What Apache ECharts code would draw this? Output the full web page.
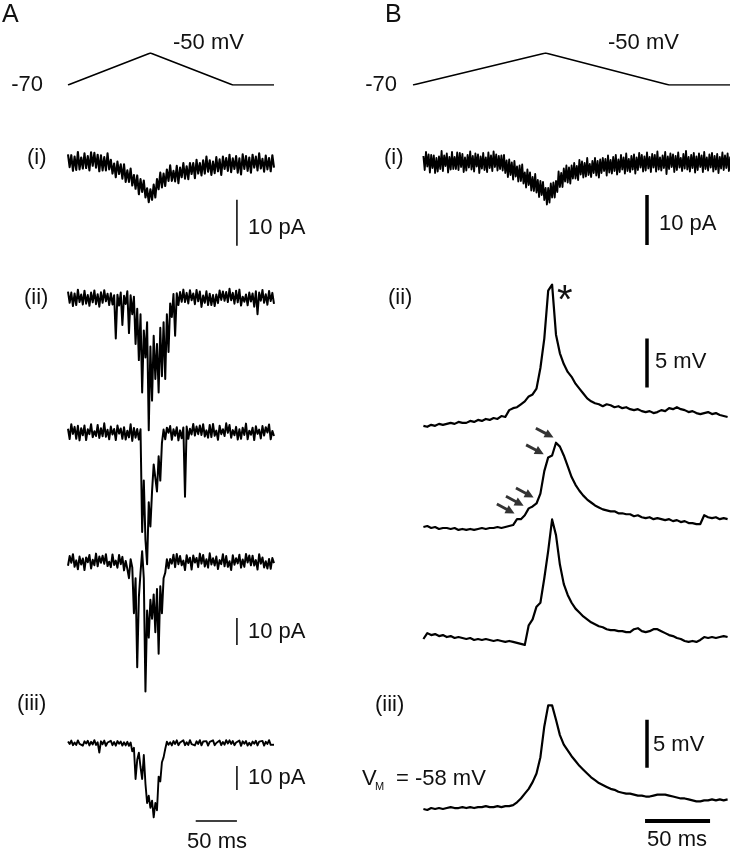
<!DOCTYPE html>
<html><head><meta charset="utf-8">
<script src="https://cdn.jsdelivr.net/npm/echarts@6.0.0/dist/echarts.min.js"></script>
<style>html,body{margin:0;padding:0;background:#fff}#c{width:730px;height:853px}</style>
</head><body><div id="c"></div><script>
// ---- command ramps (ms, mV) ----
const rampTimesA = [0, 100, 200, 250];
const rampVoltsA = [-70, -50, -70, -70];
const rampTimesB = [0, 102, 197, 244];
const rampVoltsB = [-70, -50, -70, -70];

// ---- panel A current traces (pA), sampled every 2 ms from 0 ms ----
const aStep = 2;
const aI = [1.6,-1.2,1.4,-2.0,1.1,-1.8,2.1,-1.7,0.9,-1.5,
1.8,-1.4,1.2,-1.9,2.0,-0.9,1.9,-1.3,1.5,-2.1,
1.4,-1.9,1.0,-1.9,1.8,-1.7,0.4,-2.6,-0.4,-3.4,
0.0,-2.7,-0.6,-3.7,-0.6,-4.4,-1.9,-4.4,-1.5,-5.2,
-2.9,-5.9,-3.0,-7.1,-3.8,-6.6,-4.1,-7.8,-5.8,-8.8,
-6.0,-8.3,-5.0,-7.8,-3.8,-6.0,-2.4,-5.6,-2.6,-5.3,
-1.7,-4.2,-0.8,-4.2,-2.0,-4.3,-0.9,-4.7,-1.3,-3.4,
-0.3,-3.7,-1.0,-3.8,-0.3,-2.7,-0.3,-3.6,0.4,-2.6,
-0.3,-3.0,0.3,-2.6,1.1,-2.2,0.3,-2.9,0.0,-2.5,
1.0,-2.1,0.5,-2.9,1.1,-1.6,0.8,-2.0,1.5,-2.3,
0.7,-1.6,1.2,-2.4,0.7,-2.8,1.6,-1.6,1.2,-2.0,
0.9,-2.4,1.5,-1.3,1.1,-1.9,1.8,-1.5,0.6,-2.2,
1.3,-1.7,0.8,-2.1,1.4,-1.3];
const aII1 = [2.4,-1.8,2.0,-3.0,1.7,-2.6,3.1,-1.5,1.3,-2.4,2.7,-2.1,1.1,-2.9,2.0,-1.6,2.8,-2.3,1.4,-3.2,2.1,-1.8,2.9,-1.2,1.6,-2.6,
1.8,-2.4,1.0,-15,1.2,-2.8,2.0,-10,0.8,-2.2,2.5,-13,1.0,-6,0.5,-17,-4,-23,-6,-35,-12,-22,-9,-49,-18,-38,-14,-30,-17,-35,-11,-29,-9,-30,-6,-20,-2,-7,1.5,-14,
1.8,-2.6,2.2,-1.4,3.1,-1.5,1.9,-2.0,2.9,-0.8,
1.7,-2.3,3.0,-1.2,2.4,-3.3,0.9,-1.8,2.5,-2.6,
1.6,-2.6,1.1,-3.0,1.3,-1.9,2.8,-0.7,2.4,-1.0,
2.2,-1.5,3.4,-0.8,1.9,-2.1,2.7,-1.6,3.1,-2.8,
0.5,-1.4,1.3,-2.7,2.0,-1.3,1.7,-3.2,2.5,-6.0,
2.0,-1.0,3.0,-1.8,1.4,-2.5,2.6,-1.1,1.9,-2.2];
const aII2 = [1.2,-2.6,2.9,-0.7,1.9,-2.5,2.3,-3.1,1.4,-1.2,
2.4,-3.0,1.0,-0.8,2.9,-1.9,0.3,-1.5,2.6,-2.2,
1.4,-1.6,3.2,-1.8,0.8,-2.7,2.0,-0.9,1.1,-3.0,
2.4,-0.6,1.3,-2.5,1.8,-2.8,0.5,-2.0,2.9,-3.3,
1.5,-2.1,1.1,-2.8,
1.0,-37,-18,-40,-49,-26,-35,-22,-12,-17,-22,-9,-18,-4,
0.9,-2.7,1.6,-0.3,2.2,-2.9,1.0,-1.4,1.8,-3.1,
0.6,-2.3,1.7,-24,2.0,-2.5,1.2,-0.9,3.0,-1.3,
2.0,-0.8,2.4,-1.1,2.9,-1.7,0.6,-2.1,2.6,-1.9,
3.0,-1.4,0.5,-2.9,2.3,-0.8,1.0,-1.5,3.2,-0.3,
2.6,-2.1,0.7,-1.2,1.9,-2.8,1.0,-2.5,1.6,-1.1,
3.1,-2.7,0.5,-1.0,1.6,-3.0,2.1,-0.7,0.9,-2.4,
2.2,-1.3,1.8,-0.2,2.8,-2.7,0.4,-1.5];
const aII3 = [-1.4,2.2,-0.3,2.9,-1.8,0.6,-2.7,2.0,-0.9,1.3,
-3.0,1.7,-0.1,2.6,-2.4,0.8,-1.2,3.1,-1.6,2.0,
-0.3,2.3,-0.7,2.9,-1.5,0.1,-1.9,2.8,-1.1,0.5,
-2.1,2.6,-0.8,1.9,-3.1,0.4,-2.5,
-6,1.0,-2,-19,-6,-39,-13,-4,4,-6,-48,-18,-28,-14,-21,-12,-26,-10,-34,-9,-19,-6,-4,1.0,
-2.3,1.1,-0.6,2.7,-1.9,3.0,-0.8,2.2,-1.2,0.5,
-3.0,2.5,-0.4,1.6,-2.8,2.4,-0.2,1.5,-1.9,3.1,
-0.6,2.6,-1.7,1.0,-2.1,3.2,-0.9,1.4,-1.3,2.0,
-2.6,0.7,-0.8,2.9,-1.6,2.2,-1.8,0.3,-3.0,2.5,
-1.0,1.4,-0.5,2.7,-2.1,0.9,-1.8,3.0,-0.2,2.4,
-1.2,2.3,-1.3,0.7,-2.8,2.9,-0.6,1.7,-2.0,0.3,
-2.4,1.1,-2.5,1.5,-0.4];
const aIII = [0.6,-0.4,1.0,-0.9,0.2,-0.8,1.1,-0.4,0.3,-1.1,
0.7,-0.2,0.9,-1.0,0.5,-0.6,1.2,-0.8,0.3,-4.0,
0.7,-0.5,1.0,-1.2,0.2,-0.6,0.9,-0.9,0.4,-1.1,
0.8,-0.3,0.6,-1.1,0.3,-1.0,0.5,
-1.2,0.2,-3.5,-2,-15,-7,-4,-10,-15,-5,-17,-25,-22,-27,-24,-31,-25,-28,-14,-16,-8,-6,-2.5,0.5,
-0.7,0.3,-1.0,0.8,-0.4,1.1,-0.9,0.2,-0.6,1.1,
-0.9,0.3,-0.8,1.2,-0.5,0.1,-1.0,0.7,-0.4,1.2,
-1.0,0.6,-0.1,0.8,-1.1,0.5,-0.3,1.1,-0.9,0.0,
-0.6,1.0,-0.9,0.4,-0.7,1.2,-0.2,1.1,-0.4,0.8,
-0.9,0.2,-0.5,1.0,-1.2,0.7,-0.3,0.8,-1.1,0.1,
-1.0,0.6,-0.3,0.9,-1.0,0.6,-0.2,0.9,-1.1,0.5,
-0.4,1.2,-0.8,0.0,-0.7];

// ---- panel B (i) current trace (pA), every 1 ms from 8 ms ----
const bIStart = 8, bIStep = 1;
const bI = [1.2,-1.6,2.0,-0.9,1.5,-2.1,1.4,-1.2,1.3,-2.2,
0.8,-1.9,1.1,-1.4,2.2,-1.8,1.3,-0.8,1.7,-2.1,
1.0,-1.5,2.0,-1.4,1.0,-1.4,1.9,-1.6,1.8,-1.0,
1.6,-2.0,0.9,-1.7,1.4,-1.1,2.1,-1.5,1.2,-1.9,
1.7,-0.9,1.5,-2.2,1.1,-1.3,1.8,-1.6,0.9,-2.0,
1.9,-1.2,1.3,-1.8,2.1,-1.0,1.5,-1.7,1.2,-1.4,
1.3,-1.7,1.4,-2.2,0.3,-3.0,0.5,-2.6,-0.1,-3.5,
0.2,-2.9,-0.9,-3.9,-0.7,-3.8,-0.5,-4.3,-2.1,-5.1,
-1.5,-4.6,-2.1,-5.7,-3.0,-5.8,-2.4,-6.1,-3.6,-7.0,
-3.8,-6.6,-4.0,-7.6,-5.2,-8.5,-5.2,-8.1,-4.3,-7.1,
-4.1,-7.1,-3.8,-6.0,-1.9,-5.0,-2.2,-5.0,-1.3,-3.9,
-0.7,-4.1,-1.1,-4.3,-0.7,-3.3,-0.2,-3.3,-0.8,-3.6,
0.4,-2.5,0.1,-3.1,-0.2,-2.9,0.8,-2.6,-0.4,-3.0,
0.2,-2.2,0.8,-2.7,0.2,-3.1,0.5,-2.2,0.8,-1.8,
0.6,-2.7,1.3,-2.1,0.4,-2.3,1.0,-1.8,1.4,-2.5,
0.5,-2.0,1.4,-1.5,0.9,-2.3,1.7,-1.8,0.6,-2.0,
1.2,-1.5,1.5,-2.3,0.9,-1.6,1.8,-1.1,1.4,-1.9,
1.1,-1.7,
1.9,-1.3,1.0,-2.0,1.6,-1.1,1.4,-1.9,2.1,-1.5,
0.9,-1.7,1.3,-1.2,2.0,-2.4,1.1,-1.4,1.7,-1.0,
1.5,-2.0,1.2,-1.6,1.9,-1.1,0.8,-1.8,1.6,-1.3,
2.2,-1.5,1.0,-1.9,1.4,-1.2,1.8,-2.1,1.1,-1.6,
1.7,-1.0,1.3,-2.0,2.0,-1.4,0.9,-1.7,1.5,-1.1,
1.8,-1.9,1.2,-1.5,1.6,-2.2,1.0,-1.3,1.9,-1.6,
1.3,-1.2,1.7,-1.8,1.1];

// ---- panel B voltage traces, every 3 ms from 8 ms ----
const bVStart = 8, bVStep = 3;
const bII1 = [0.1,0.0,0.2,0.1,0.3,0.2,0.3,0.4,0.3,0.5,
0.4,0.4,0.6,0.5,0.7,0.6,0.8,0.7,0.9,0.8,
1.1,1.0,1.7,1.9,2.0,2.3,2.6,3.1,3.3,3.9,
6.0,9.0,13.9,14.5,9.4,7.5,6.4,5.6,5.1,4.4,
3.9,3.4,2.9,2.6,2.4,2.3,2.1,2.3,2.2,2.0,
2.1,1.9,2.0,1.8,1.7,1.8,1.6,1.5,1.6,1.4,
1.5,1.7,1.6,1.9,1.8,2.0,1.8,1.7,1.5,1.6,
1.4,1.3,1.4,1.5,1.3,1.4,1.2,1.1,1.0];
const bII2 = [0.0,0.1,-0.1,0.0,-0.2,-0.1,-0.1,-0.2,-0.1,-0.3,
-0.2,-0.3,-0.2,-0.3,-0.2,-0.1,-0.2,-0.1,-0.1,0.0,
-0.1,0.0,0.1,0.2,0.8,0.8,1.2,1.9,2.1,2.4,
3.4,5.7,7.1,7.3,8.6,8.2,7.3,6.2,5.1,4.3,
3.7,3.2,2.8,2.5,2.2,2.0,1.8,1.7,1.6,1.6,
1.4,1.4,1.3,1.3,1.1,1.2,1.0,0.9,1.0,0.8,
0.9,0.8,0.7,0.8,0.6,0.7,0.5,0.6,0.4,0.4,
0.3,0.3,1.2,1.0,0.9,1.0,0.8,0.9,0.8];
const bII3 = [0.0,0.6,0.4,0.5,0.3,0.4,0.2,0.3,0.1,0.2,
0.1,0.0,0.1,-0.1,0.0,-0.1,0.0,-0.1,-0.2,-0.1,
-0.2,-0.3,-0.2,-0.3,-0.4,-0.5,-0.6,1.4,2.0,3.3,
3.7,6.2,9.0,12.2,10.6,7.6,5.6,4.5,3.7,3.1,
2.7,2.3,2.0,1.7,1.5,1.3,1.2,1.0,0.9,0.9,
0.8,0.8,0.7,0.7,1.0,1.1,0.8,0.7,0.8,1.0,
1.0,0.8,0.6,0.4,0.3,0.1,0.0,-0.2,-0.3,-0.2,
-0.3,-0.1,0.2,0.1,0.2,0.1,0.2,0.3,0.2];
const bIII = [-58.0,-58.1,-57.9,-58.0,-57.9,-58.0,-57.9,-57.8,-57.9,-57.9,
-57.8,-57.9,-57.8,-57.9,-57.8,-57.8,-57.7,-57.8,-57.8,-57.7,
-57.8,-57.7,-57.7,-57.6,-57.3,-56.9,-56.4,-55.9,-55.2,-54.3,
-52.6,-49.4,-47.2,-47.2,-48.7,-50.3,-51.3,-51.9,-52.5,-53.0,
-53.5,-53.9,-54.3,-54.7,-55.0,-55.3,-55.5,-55.7,-55.9,-56.0,
-56.2,-56.3,-56.4,-56.4,-56.5,-56.6,-56.6,-56.7,-56.7,-56.6,
-56.5,-56.5,-56.5,-56.6,-56.7,-56.8,-56.9,-56.9,-57.0,-57.1,
-57.2,-57.2,-57.1,-57.1,-57.0,-57.1,-57.0,-57.1,-57.0];

// ---- arrows on B(ii) second sweep (ms, mV) ----
const arrowTimes = [101.3, 93.8, 86.0, 78.3, 71.3];
const arrowVolts = [9.6, 7.9, 3.5, 2.65, 1.86];

// ---- scale bars (data units) ----
const scaleBarsT = [205, 205, 205, 180, 180, 180];
const scaleBarsFrom = [-8.3, -20.7, -9.6, -6.6, 9, -48.7];
const scaleBarsTo = [-18.3, -30.7, -19.6, -16.6, 4, -53.7];
const timeBarA = [155, 205], timeBarAv = -32.5;
const timeBarB = [178.5, 228.5], timeBarBv = -59.25;

// ================= layout =================
const GA = {left: 68, width: 206}, GB = {left: 413, width: 317.2};
const grids = [
  Object.assign({top: 53, height: 32}, GA),
  Object.assign({top: 53, height: 32}, GB),
  Object.assign({top: 140, height: 115}, GA),
  Object.assign({top: 276.4, height: 162}, GA),
  Object.assign({top: 410.4, height: 162}, GA),
  Object.assign({top: 540.4, height: 162}, GA),
  Object.assign({top: 723.8, height: 115.2}, GA),
  Object.assign({top: 140, height: 125}, GB),
  Object.assign({top: 270, height: 196}, GB),
  Object.assign({top: 370.2, height: 196}, GB),
  Object.assign({top: 482.2, height: 196}, GB),
  Object.assign({top: 690, height: 157.4}, GB)
].map(g => Object.assign({containLabel: false, outerBoundsMode: 'none', show: false}, g));
const yr = [[-70,-50],[-70,-50],[-20.3,4.7],[-52,8],[-52,8],[-52,8],[-40,8],[-20.6,4.4],[-4,16],[-4,16],[-4,16],[-62,-45.6]];
const hidden = {show: false};
const xAxes = grids.map((g, i) => ({type: 'value', gridIndex: i, min: 0, max: g.left === 68 ? 250 : 244,
  axisLine: hidden, axisTick: hidden, axisLabel: hidden, splitLine: hidden}));
const yAxes = yr.map((r, i) => ({type: 'value', gridIndex: i, min: r[0], max: r[1], scale: true,
  axisLine: hidden, axisTick: hidden, axisLabel: hidden, splitLine: hidden}));

function pairs(t0, dt, vals) { return vals.map((v, i) => [t0 + i * dt, v]); }
function line(g, data, w) {
  return {type: 'line', xAxisIndex: g, yAxisIndex: g, data: data, symbol: 'none', showSymbol: false,
    lineStyle: {color: '#000', width: w, join: 'round'}, silent: true, animation: false, z: 2};
}
const series = [
  line(0, rampTimesA.map((t, i) => [t, rampVoltsA[i]]), 1.6),
  line(1, rampTimesB.map((t, i) => [t, rampVoltsB[i]]), 1.6),
  line(2, pairs(0, aStep, aI), 2.1),
  line(3, pairs(0, aStep, aII1), 2.0),
  line(4, pairs(0, aStep, aII2), 2.0),
  line(5, pairs(0, aStep, aII3), 2.0),
  line(6, pairs(0, aStep, aIII), 1.9),
  line(7, pairs(bIStart, bIStep, bI), 1.9),
  line(8, pairs(bVStart, bVStep, bII1), 2.2),
  line(9, pairs(bVStart, bVStep, bII2), 2.2),
  line(10, pairs(bVStart, bVStep, bII3), 2.2),
  line(11, pairs(bVStart, bVStep, bIII), 2.2)
];
const barGrid = [2, 5, 6, 7, 8, 11];
const barW = [1.5, 1.5, 1.5, 3.5, 3.5, 3.5];
barGrid.forEach((g, i) => series.push(line(g, [[scaleBarsT[i], scaleBarsFrom[i]], [scaleBarsT[i], scaleBarsTo[i]]], barW[i])));
series.push(line(6, timeBarA.map(t => [t, timeBarAv]), 1.5));
series.push(line(11, timeBarB.map(t => [t, timeBarBv]), 4));
series.push({type: 'scatter', xAxisIndex: 9, yAxisIndex: 9, silent: true, animation: false,
  data: arrowTimes.map((t, i) => [t, arrowVolts[i]]),
  symbol: 'path://M0,3.4L11,3.4L11,0L20,5L11,10L11,6.6L0,6.6Z', symbolSize: [20, 9], symbolRotate: -28,
  itemStyle: {color: '#000'}});

const FF = '"Liberation Sans", Arial, Helvetica, sans-serif';
function txt(text, x, y, size, align) {
  return {type: 'text', x: x, y: y, silent: true,
    style: {text: text, fontSize: size || 22, fontFamily: FF, fill: '#111',
      textAlign: align || 'left', align: align || 'left', textVerticalAlign: 'middle', verticalAlign: 'middle'}};
}
const graphics = [
  txt('A', 2, 15, 25), txt('B', 385, 15, 25),
  txt('-70', 43, 85, 22, 'right'), txt('-50 mV', 173, 43),
  txt('-70', 397, 85, 22, 'right'), txt('-50 mV', 608, 43),
  txt('(i)', 27, 158), txt('(i)', 384, 158),
  txt('(ii)', 24, 298), txt('(ii)', 388, 298),
  txt('(iii)', 17, 704), txt('(iii)', 375, 705),
  txt('10 pA', 248, 228), txt('10 pA', 248, 632), txt('10 pA', 248, 778),
  txt('10 pA', 659, 224), txt('5 mV', 655, 362), txt('5 mV', 653, 745),
  txt('V', 362, 779), txt('M', 375, 787, 11), txt('= -58 mV', 396, 779),
  txt('50 ms', 217, 842, 22, 'center'), txt('50 ms', 677, 840, 22, 'center'),
  {type: 'text', x: 557, y: 282, silent: true, style: {text: '*', fontSize: 40, fontFamily: FF, fill: '#111', textAlign: 'left', align: 'left', textVerticalAlign: 'top', verticalAlign: 'top'}}
];

const chart = echarts.init(document.getElementById('c'), null, {renderer: 'canvas'});
chart.setOption({
  animation: false, backgroundColor: '#fff',
  grid: grids, xAxis: xAxes, yAxis: yAxes, series: series, graphic: graphics
});
</script></body></html>
